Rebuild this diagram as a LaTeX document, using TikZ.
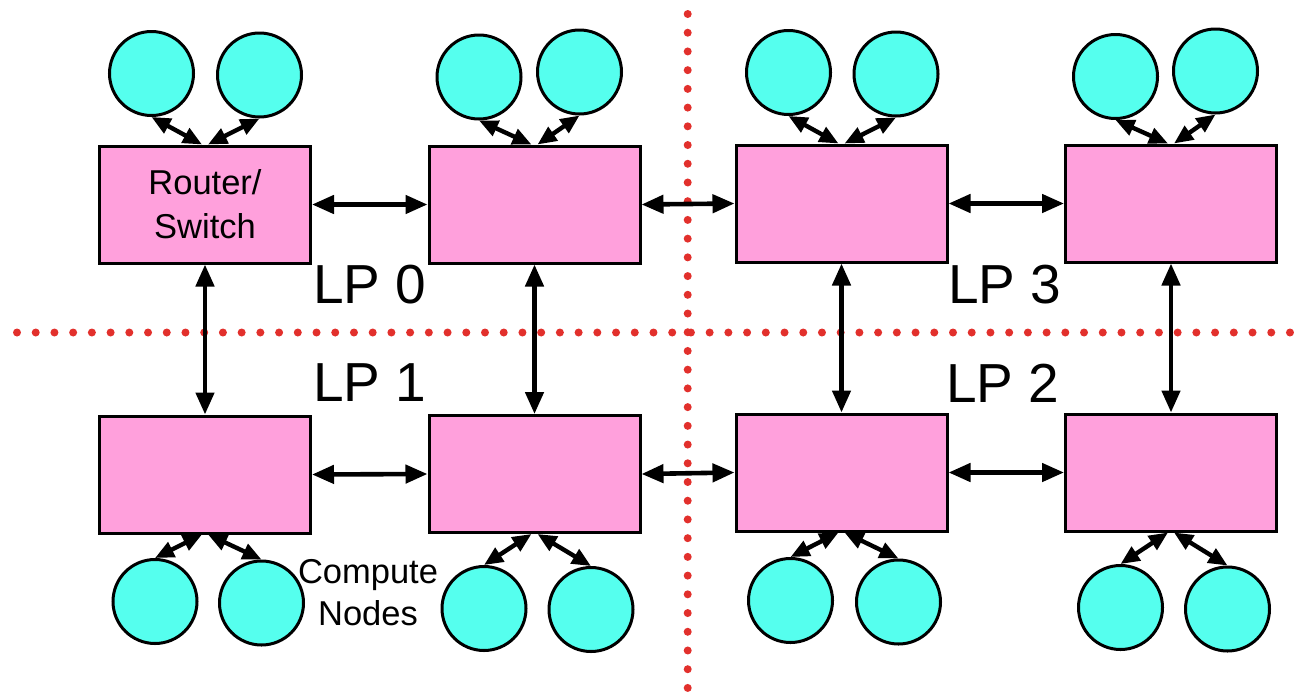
\documentclass[tikz,border=0pt]{standalone}
\usepackage{fontspec}
\setmainfont{Liberation Sans}
\usetikzlibrary{arrows.meta}
\definecolor{boxpink}{RGB}{255,160,220}
\definecolor{nodecyan}{RGB}{85,255,238}
\definecolor{dotred}{RGB}{226,48,44}
\tikzset{
  router/.style={draw=black, line width=3pt, fill=boxpink, rectangle, minimum width=211pt, minimum height=117pt, inner sep=0pt, align=center, font=\fontsize{34.5}{44}\selectfont},
  cnode/.style={draw=black, line width=3pt, fill=nodecyan, circle, minimum size=84pt, inner sep=0pt},
  link/.style={line width=4.6pt, {Triangle[length=22pt,width=18pt]}-{Triangle[length=22pt,width=18pt]}},
  attach/.style={line width=4.4pt, {Triangle[length=19pt,width=16pt]}-{Triangle[length=19pt,width=16pt]}},
  lplabel/.style={anchor=base west, inner sep=0pt, font=\fontsize{55}{60}\selectfont},
  partline/.style={dotred, line width=8pt, line cap=round, dash pattern=on 0pt off 18.72pt},
}
\begin{document}
\begin{tikzpicture}[x=1pt, y=-1pt]
\useasboundingbox (0,0) rectangle (1300,691);
% partition lines
\draw[partline] (687.7,14) -- (687.7,689);
\draw[partline] (17,332.5) -- (1292,332.5);
% routers
\node[router] (t1) at (205,204.5) {Router/\\Switch};
\node[router] (t2) at (534.5,204.5) {};
\node[router] (t3) at (841.5,203.5) {};
\node[router] (t4) at (1171,203.5) {};
\node[router] (b1) at (205,474.5) {};
\node[router] (b2) at (534.5,474) {};
\node[router] (b3) at (841.5,472.5) {};
\node[router] (b4) at (1171,472.5) {};
% compute nodes
\node[cnode] (t1a) at (151.5,73.5) {};
\node[cnode] (t1b) at (259.5,75) {};
\node[cnode] (t2a) at (479,77) {};
\node[cnode] (t2b) at (579.5,72) {};
\node[cnode] (t3a) at (788.5,72.5) {};
\node[cnode] (t3b) at (896,74) {};
\node[cnode] (t4a) at (1115.5,76.5) {};
\node[cnode] (t4b) at (1215.5,71) {};
\node[cnode] (b1a) at (155,601.5) {};
\node[cnode] (b1b) at (261.5,603) {};
\node[cnode] (b2a) at (484,608.5) {};
\node[cnode] (b2b) at (591,609.5) {};
\node[cnode] (b3a) at (790.5,600.5) {};
\node[cnode] (b3b) at (898.5,602) {};
\node[cnode] (b4a) at (1120.5,607.5) {};
\node[cnode] (b4b) at (1227.5,609) {};
% node-router links
\foreach \r in {t1,t2,t3,t4}{
  \draw[attach] (\r a.south) -- ([xshift=-3pt]\r.north);
  \draw[attach] (\r b.south) -- ([xshift=3pt]\r.north);
}
\foreach \r in {b1,b2,b3,b4}{
  \draw[attach] (\r a.north) -- ([xshift=-3pt]\r.south);
  \draw[attach] (\r b.north) -- ([xshift=3pt]\r.south);
}
% router-router links
\draw[link] (t1.east) -- (t2.west);
\draw[link] (t2.east) -- (t3.west);
\draw[link] (t3.east) -- (t4.west);
\draw[link] (b1.east) -- (b2.west);
\draw[link] (b2.east) -- (b3.west);
\draw[link] (b3.east) -- (b4.west);
\draw[link] (t1.south) -- (b1.north);
\draw[link] (t2.south) -- (b2.north);
\draw[link] (t3.south) -- (b3.north);
\draw[link] (t4.south) -- (b4.north);
% labels
\node[lplabel] (lp0) at (313,303) {LP 0};
\node[lplabel] (lp1) at (313,401) {LP 1};
\node[lplabel] (lp3) at (948,303) {LP 3};
\node[lplabel] (lp2) at (946,402) {LP 2};
\node[anchor=base, inner sep=0pt, align=center, font=\fontsize{34.5}{42}\selectfont] (cn) at (368,625) {Compute\\Nodes};
\end{tikzpicture}
\end{document}
